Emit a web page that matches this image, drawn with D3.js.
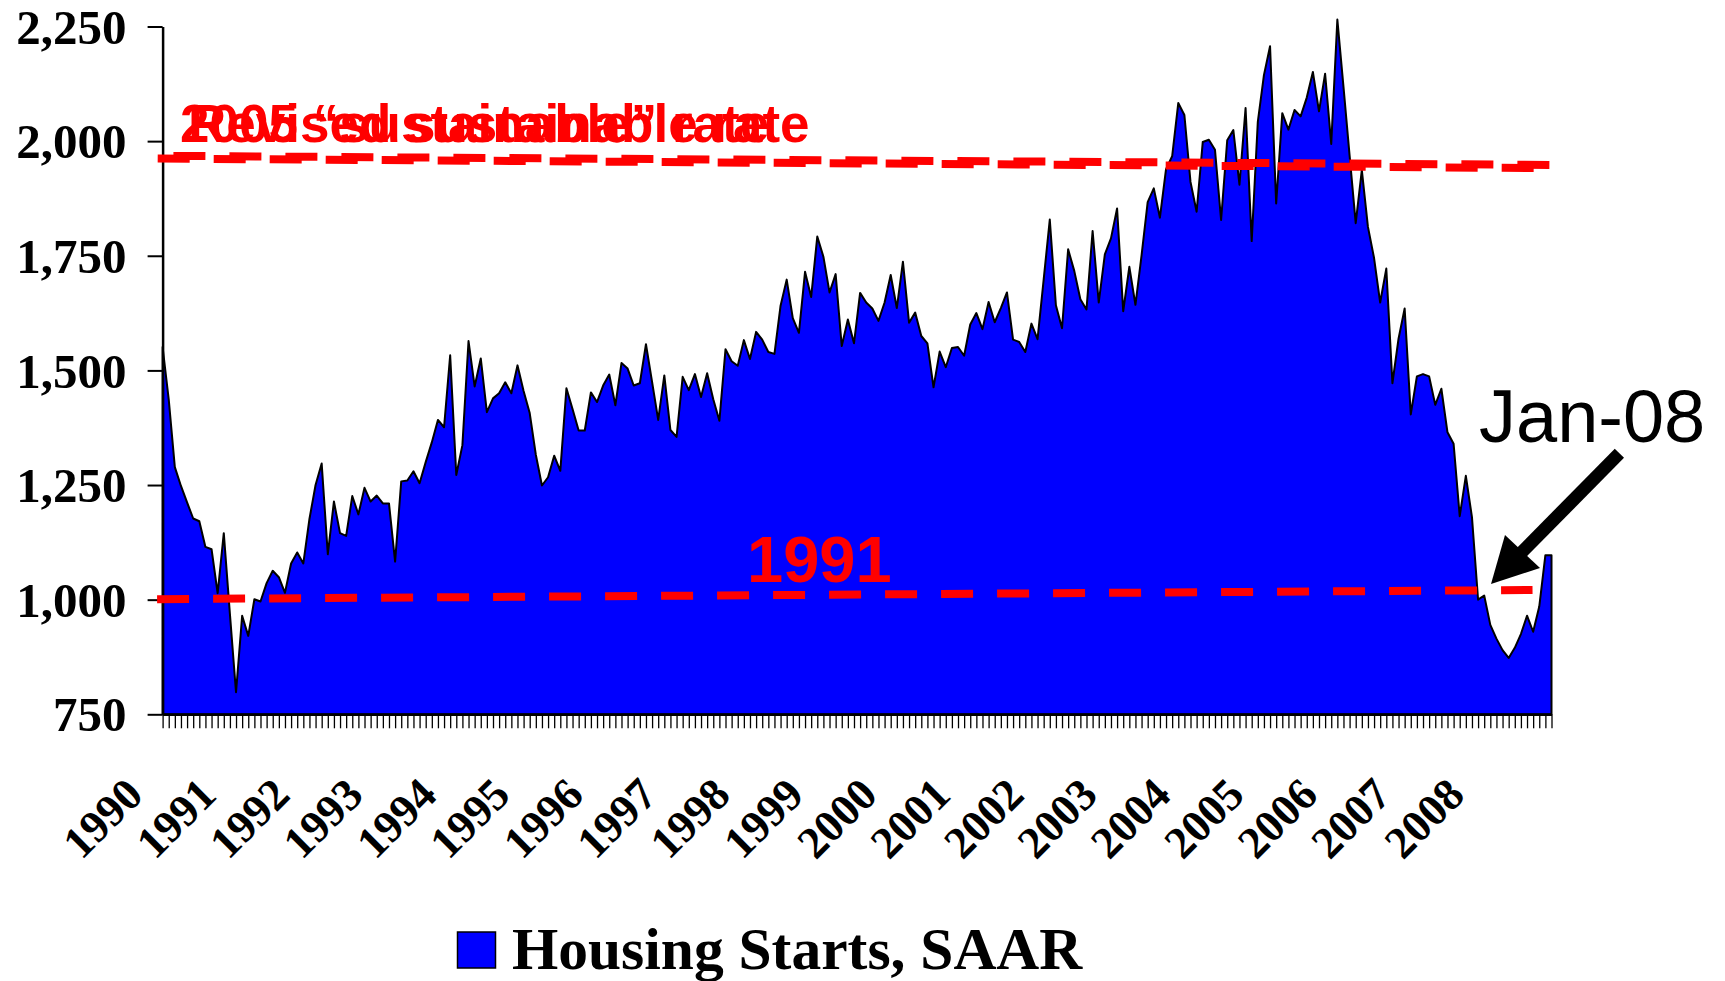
<!DOCTYPE html>
<html>
<head>
<meta charset="utf-8">
<script src="https://cdnjs.cloudflare.com/ajax/libs/d3/7.8.5/d3.min.js"></script>
<style>
  body { margin: 0; background: #fff; }
  svg text { font-kerning: normal; }
</style>
</head>
<body>
<div id="vis"></div>
<script>
// monthly housing starts, thousands, SAAR (Jan..Dec)
var hs1990 = [1551, 1437, 1289, 1248, 1212, 1177, 1171, 1115, 1110, 1014, 1145, 969];
var hs1991 = [798, 965, 921, 1001, 996, 1036, 1063, 1049, 1015, 1079, 1103, 1079];
var hs1992 = [1176, 1250, 1297, 1099, 1214, 1145, 1139, 1226, 1186, 1244, 1214, 1227];
var hs1993 = [1210, 1210, 1083, 1258, 1260, 1280, 1254, 1300, 1343, 1392, 1376, 1533];
var hs1994 = [1272, 1337, 1564, 1465, 1526, 1409, 1439, 1450, 1474, 1450, 1511, 1455];
var hs1995 = [1407, 1316, 1249, 1267, 1314, 1281, 1461, 1416, 1369, 1369, 1452, 1431];
var hs1996 = [1467, 1491, 1424, 1516, 1504, 1467, 1472, 1557, 1475, 1392, 1489, 1370];
var hs1997 = [1355, 1486, 1457, 1492, 1442, 1494, 1437, 1390, 1546, 1520, 1510, 1566];
var hs1998 = [1525, 1584, 1567, 1540, 1536, 1641, 1698, 1614, 1582, 1715, 1660, 1792];
var hs1999 = [1748, 1670, 1710, 1553, 1611, 1559, 1669, 1648, 1635, 1608, 1648, 1708];
var hs2000 = [1636, 1737, 1604, 1626, 1575, 1559, 1463, 1541, 1507, 1549, 1551, 1532];
var hs2001 = [1600, 1625, 1590, 1649, 1605, 1636, 1670, 1567, 1562, 1540, 1602, 1568];
var hs2002 = [1698, 1829, 1642, 1592, 1764, 1717, 1655, 1633, 1804, 1648, 1753, 1788];
var hs2003 = [1853, 1629, 1726, 1643, 1751, 1867, 1897, 1833, 1939, 1967, 2083, 2057];
var hs2004 = [1911, 1846, 1998, 2003, 1981, 1828, 2002, 2024, 1905, 2072, 1782, 2042];
var hs2005 = [2144, 2207, 1864, 2061, 2025, 2068, 2054, 2095, 2151, 2065, 2147, 1994];
var hs2006 = [2265, 2119, 1969, 1821, 1937, 1813, 1745, 1648, 1722, 1472, 1569, 1635];
var hs2007 = [1404, 1487, 1492, 1487, 1425, 1460, 1365, 1340, 1182, 1270, 1180, 1000];
var hs2008 = [1009, 945, 915, 890, 873, 895, 925, 965, 930, 985, 1097, 1097];

var housingStarts = [].concat(hs1990, hs1991, hs1992, hs1993, hs1994, hs1995, hs1996,
    hs1997, hs1998, hs1999, hs2000, hs2001, hs2002, hs2003, hs2004, hs2005, hs2006,
    hs2007, hs2008);

var yearLabels = ['1990', '1991', '1992', '1993', '1994', '1995', '1996', '1997', '1998',
    '1999', '2000', '2001', '2002', '2003', '2004', '2005', '2006', '2007', '2008'];
var yTicks = [750, 1000, 1250, 1500, 1750, 2000, 2250];

// reference lines: [month index, level] at each end
var sustainable2005 = [[-0.8, 1962], [227.9, 1941]];
var sustainableRevised = [[-0.8, 1968], [227.9, 1948]];
var level1991 = [[-0.9, 1001], [223.9, 1021]];

//setup drawing area
var svgW = 1725;
var svgH = 981;
var svg = d3.select('#vis').append('svg').attr('width', svgW).attr('height', svgH);
var g = svg.append('g');

var x = d3.scaleLinear().domain([0, housingStarts.length - 1]).range([162.6, 1551.5]);
var y = d3.scaleLinear().domain([750, 2250]).range([714.3, 26.5]);

var serif = "'Liberation Serif', 'Times New Roman', serif";
var sans = "'Liberation Sans', Arial, sans-serif";

//area
var area = d3.area()
    .x(function(d, i) { return x(i); })
    .y0(y(750))
    .y1(function(d) { return y(d); });

g.append('path').datum(housingStarts)
    .attr('d', area)
    .style('fill', '#0000ff')
    .style('stroke', '#000')
    .style('stroke-width', 2)
    .style('stroke-linejoin', 'round');

//y axis
var yAxis = g.append('g').attr('transform', 'translate(' + x(0) + ',0)')
    .call(d3.axisLeft(y).tickValues(yTicks).tickSize(15).tickSizeOuter(0)
        .tickPadding(21).tickFormat(d3.format(',')));
yAxis.select('.domain').style('stroke-width', 2.5);
yAxis.selectAll('.tick line').style('stroke-width', 2);
yAxis.selectAll('.tick text')
    .style('font-family', serif).style('font-weight', 'bold').style('font-size', '49px')
    .attr('dy', '0.34em');

//x axis, one tick per month
var xAxis = g.append('g').attr('transform', 'translate(0,' + y(750) + ')')
    .call(d3.axisBottom(x).tickValues(d3.range(housingStarts.length)).tickSize(14)
        .tickSizeOuter(0).tickFormat(''));
xAxis.select('.domain').style('stroke-width', 2.5);
xAxis.selectAll('.tick line').style('stroke-width', 1.3);

//year labels
g.selectAll('.yearLabel').data(yearLabels).enter().append('text')
    .attr('class', 'yearLabel')
    .text(String)
    .attr('transform', function(d, i) {
        return 'translate(' + (x(i * 12) - 17.5) + ',797) rotate(-45)';
    })
    .attr('text-anchor', 'end')
    .style('font-family', serif).style('font-weight', 'bold').style('font-size', '45px');

//dashed reference lines
function refLine(pts, offset) {
    return g.append('line')
        .attr('x1', x(pts[0][0])).attr('y1', y(pts[0][1]))
        .attr('x2', x(pts[1][0])).attr('y2', y(pts[1][1]))
        .style('stroke', '#ff0000').style('stroke-width', 8)
        .style('stroke-dasharray', '32 24').style('stroke-dashoffset', offset);
}
refLine(sustainable2005, 0);
refLine(sustainableRevised, -15.7);
refLine(level1991, 0);

//red labels (two overlapping, as in the original slide)
g.append('text').attr('x', 180).attr('y', 141.7).text('2005 \u201csustainable\u201d rate')
    .style('fill', '#ff0000').style('font-family', sans).style('font-weight', 'bold').style('font-size', '53px');
g.append('text').attr('x', 188).attr('y', 141.7).text('Revised sustainable rate')
    .style('fill', '#ff0000').style('font-family', sans).style('font-weight', 'bold').style('font-size', '53px');
g.append('text').attr('x', 747).attr('y', 582.3).text('1991')
    .style('fill', '#ff0000').style('font-family', sans).style('font-weight', 'bold').style('font-size', '65px');

//Jan-08 callout
g.append('text').attr('x', 1479).attr('y', 441.7).text('Jan-08')
    .style('fill', '#000').style('font-family', sans).style('font-size', '74px');
g.append('line')
    .attr('x1', 1619.4).attr('y1', 453.3).attr('x2', 1521).attr('y2', 553)
    .style('stroke', '#000').style('stroke-width', 13);
g.append('polygon')
    .attr('points', '1491,584 1505,535 1540,568')
    .style('fill', '#000');

//legend
g.append('rect').attr('x', 457.5).attr('y', 932).attr('width', 38).attr('height', 36)
    .style('fill', '#0000ff').style('stroke', '#000').style('stroke-width', 1.5);
g.append('text').attr('x', 512).attr('y', 969).text('Housing Starts, SAAR')
    .style('font-family', serif).style('font-weight', 'bold').style('font-size', '59.5px');
</script>
</body>
</html>
